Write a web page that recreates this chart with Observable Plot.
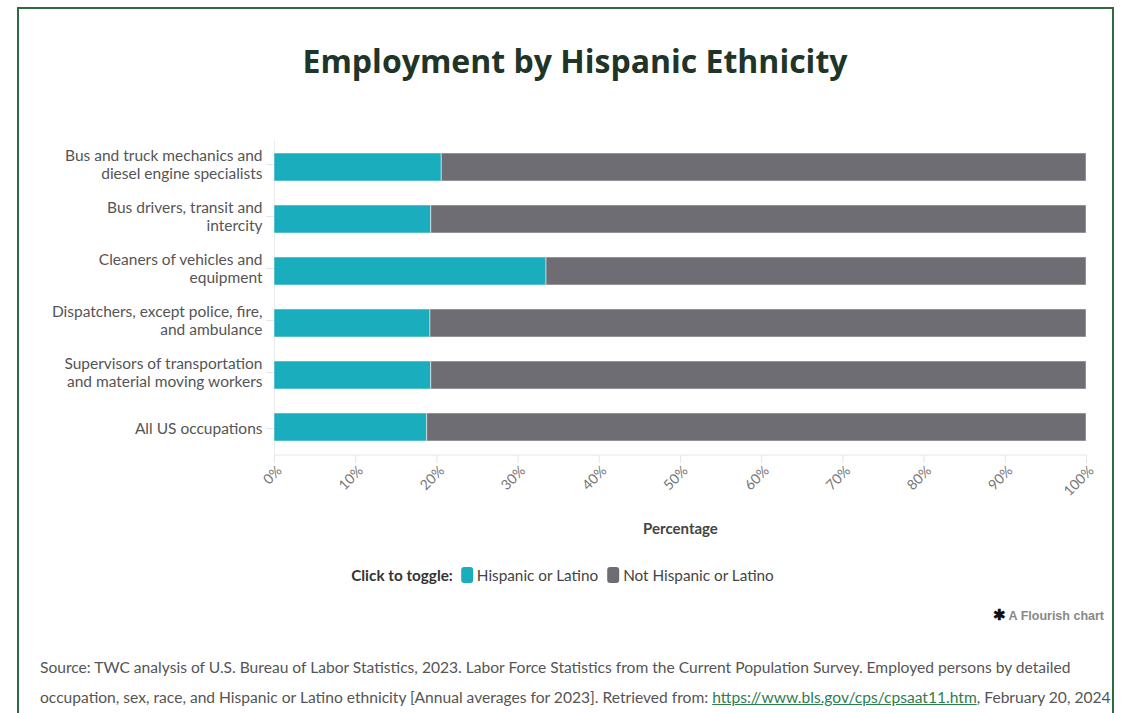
<!DOCTYPE html>
<html>
<head>
<meta charset="utf-8">
<script src="https://cdn.jsdelivr.net/npm/d3@7"></script>
<script src="https://cdn.jsdelivr.net/npm/@observablehq/plot@0.6"></script>
<style>
  html, body { margin: 0; padding: 0; background: #fff; }
  body { width: 1124px; height: 713px; position: relative; overflow: hidden; font-family: Lato, "Noto Sans", sans-serif; }
  #frame { position: absolute; left: 17px; top: 7px; width: 1097px; height: 720px; border: 2px solid #2f6b40; box-sizing: border-box; }
  #title { position: absolute; left: 575px; top: 39px; transform: translateX(-50%); white-space: nowrap;
           font-family: "Open Sans", sans-serif; font-weight: 700; font-size: 32px; line-height: 44px; color: #1f3527; }
  #chart { position: absolute; left: 0; top: 130px; }
  #legend { position: absolute; left: 567px; top: 564px; transform: translateX(-50%); white-space: nowrap;
            display: flex; align-items: center; font-size: 15.3px; color: #444; line-height: 22px; }
  #legend b { color: #333; margin-right: 8px; }
  .sw { display: inline-block; width: 12px; height: 16px; border-radius: 3px; margin-right: 4px; }
  .item { display: inline-flex; align-items: center; margin-right: 9px; }
  #credit { position: absolute; right: 20px; top: 606px; font-family: "Liberation Sans", Arial, sans-serif; font-weight: 700;
            font-size: 12.5px; color: #888; line-height: 18px; }
  #credit span { color: #111; font-size: 15px; }
  #source { position: absolute; left: 40px; top: 652px; font-size: 15.6px; line-height: 30px; color: #555; white-space: nowrap; }
  #source a { color: #2e7d4f; text-decoration: underline; }
</style>
</head>
<body>
<div id="frame"></div>
<div id="title">Employment by Hispanic Ethnicity</div>
<div id="chart"></div>
<div id="legend"></div>
<div id="credit"><span>✱</span> A Flourish chart</div>
<div id="source">Source: TWC analysis of U.S. Bureau of Labor Statistics, 2023. Labor Force Statistics from the Current Population Survey. Employed persons by detailed<br>occupation, sex, race, and Hispanic or Latino ethnicity [Annual averages for 2023]. Retrieved from: <a href="#">https://www.bls.gov/cps/cpsaat11.htm</a>, February 20, 2024</div>
<script>
const categories = [
  "Bus and truck mechanics and diesel engine specialists",
  "Bus drivers, transit and intercity",
  "Cleaners of vehicles and equipment",
  "Dispatchers, except police, fire, and ambulance",
  "Supervisors of transportation and material moving workers",
  "All US occupations"
];
const categoryLabels = [
  "Bus and truck mechanics and\ndiesel engine specialists",
  "Bus drivers, transit and\nintercity",
  "Cleaners of vehicles and\nequipment",
  "Dispatchers, except police, fire,\nand ambulance",
  "Supervisors of transportation\nand material moving workers",
  "All US occupations"
];
const seriesNames = ["Hispanic or Latino", "Not Hispanic or Latino"];
const seriesColors = ["#1aadbd", "#6e6d73"];
const hispanic = [20.6, 19.3, 33.5, 19.2, 19.3, 18.8];
const notHispanic = [79.4, 80.7, 66.5, 80.8, 80.7, 81.2];
const xTicks = [0, 10, 20, 30, 40, 50, 60, 70, 80, 90, 100];

const data = [];
categories.forEach((c, i) => {
  data.push({category: c, series: seriesNames[0], value: hispanic[i]});
  data.push({category: c, series: seriesNames[1], value: notHispanic[i]});
});
const labelOf = new Map(categories.map((c, i) => [c, categoryLabels[i]]));
const multiLine = categories.filter(c => labelOf.get(c).includes("\n"));
const singleLine = categories.filter(c => !labelOf.get(c).includes("\n"));

const yAxisOpts = {tickSize: 8, tickPadding: 4, stroke: "#e6e6e6", tickFormat: d => labelOf.get(d), lineHeight: 1.17, fill: "#555", fontSize: 15.5, label: null};

const chart = Plot.plot({
  width: 1124,
  height: 420,
  marginLeft: 274,
  marginRight: 38,
  marginTop: 10,
  marginBottom: 95,
  style: {fontFamily: "Lato, 'Noto Sans', sans-serif", fontSize: "14px", color: "#333", background: "transparent"},
  x: {domain: [0, 100]},
  y: {domain: categories, paddingInner: 0.46, paddingOuter: 0.25},
  color: {domain: seriesNames, range: seriesColors},
  marks: [
    Plot.axisY({...yAxisOpts, ticks: multiLine, dy: -3}),
    Plot.axisY({...yAxisOpts, ticks: singleLine, dy: 1}),
    Plot.axisX({ticks: xTicks, tickSize: 8, stroke: "#e6e6e6", tickFormat: () => "", label: null}),
    Plot.axisX({ticks: xTicks, tickSize: 0, tickPadding: 11, tickRotate: -45, fill: "#777", fontSize: 14, dx: 5, dy: 2, tickFormat: d => d + "%", label: null}),
    Plot.axisX({ticks: [], label: "Percentage", labelAnchor: "center", labelOffset: 78, labelArrow: "none", fontWeight: "bold", fill: "#444", fontSize: 15}),
    Plot.ruleX([0], {stroke: "#ececec"}),
    Plot.barX(data, Plot.stackX({x: "value", y: "category", fill: "series", order: seriesNames, stroke: "#ffffff", strokeOpacity: 0.5, strokeWidth: 1}))
  ]
});
document.getElementById("chart").appendChild(chart);

// bottom axis line
const svg = d3.select(chart);
svg.append("line").attr("x1", 274).attr("x2", 1086).attr("y1", 325).attr("y2", 325).attr("stroke", "#e6e6e6");

const legend = document.getElementById("legend");
legend.innerHTML = "<b>Click to toggle:</b>" + seriesNames.map((s, i) =>
  `<span class="item"><span class="sw" style="background:${seriesColors[i]}"></span>${s}</span>`).join("");
</script>
</body>
</html>
